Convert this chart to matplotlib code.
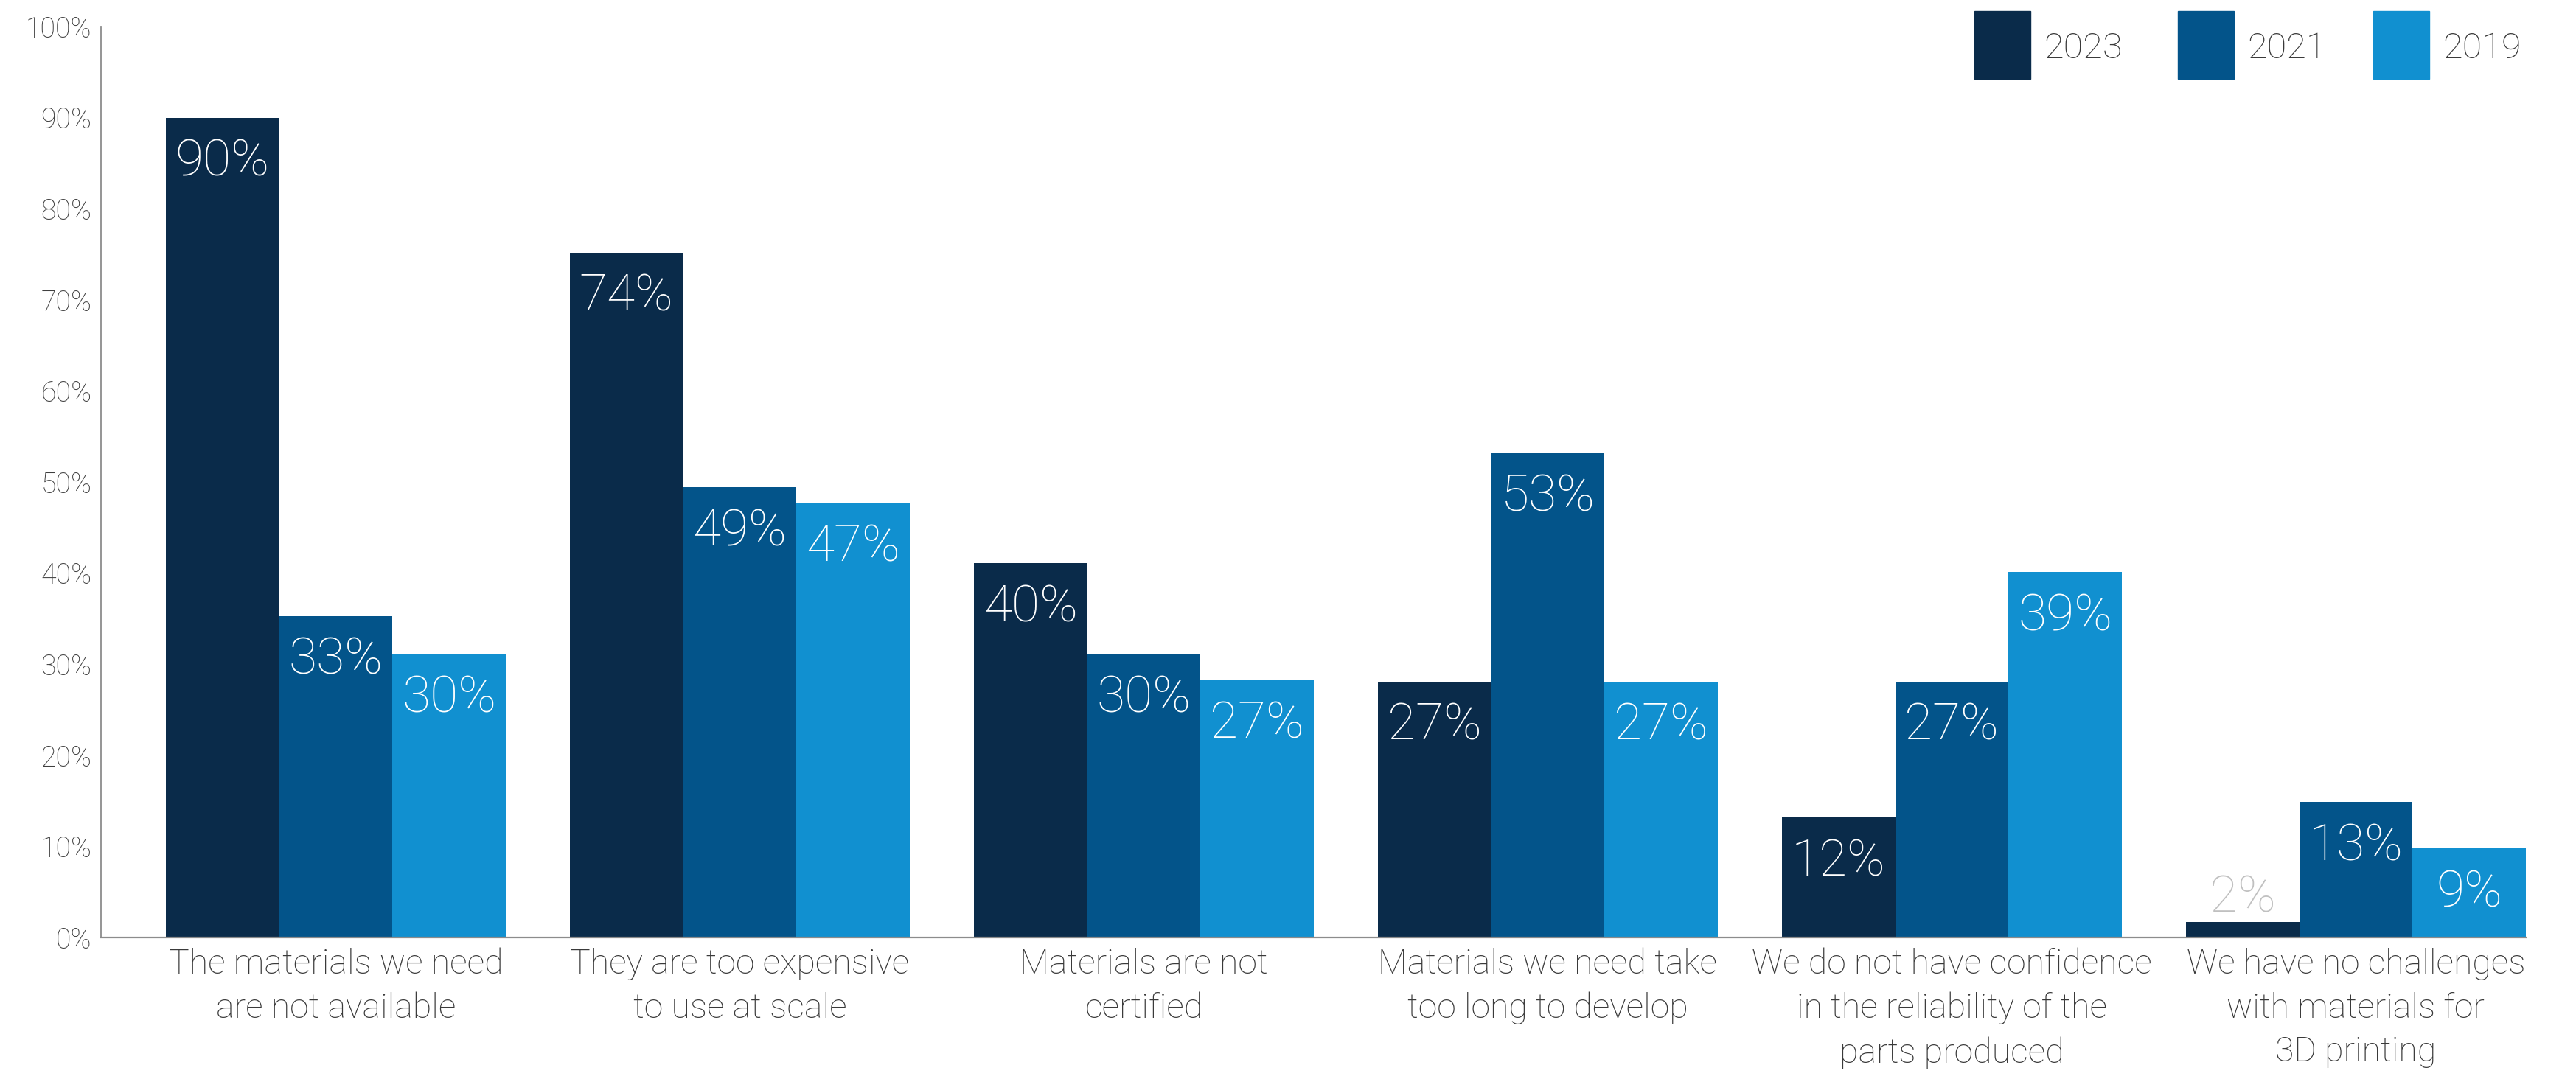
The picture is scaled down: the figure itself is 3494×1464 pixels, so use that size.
#!/usr/bin/env python3
"""
Materials challenges for 3D printing - grouped bar chart (2023 / 2021 / 2019).
"""

import numpy as np
import matplotlib
matplotlib.use('Agg')
import matplotlib.pyplot as plt
from matplotlib.patches import Rectangle


# Categories (x axis)
categories = [
    'The materials we need\nare not available',
    'They are too expensive\nto use at scale',
    'Materials are not\ncertified',
    'Materials we need take\ntoo long to develop',
    'We do not have confidence\nin the reliability of the\nparts produced',
    'We have no challenges\nwith materials for\n3D printing',
]

years = ['2023', '2021', '2019']

# Bar heights as drawn (percent)
heights_2023 = [90.0, 75.2, 41.1, 28.1, 13.2, 1.7]
heights_2021 = [35.3, 49.4, 31.1, 53.2, 28.1, 14.9]
heights_2019 = [31.1, 47.7, 28.3, 28.1, 40.1, 9.8]

# Printed value labels (percent)
labels_2023 = [90, 74, 40, 27, 12, 2]
labels_2021 = [33, 49, 30, 53, 27, 13]
labels_2019 = [30, 47, 27, 27, 39, 9]

y_ticks = [0, 10, 20, 30, 40, 50, 60, 70, 80, 90, 100]

COLORS = ['#0a2b4a', '#03548a', '#1190d0']
TEXT = '#3a3a3a'
TICK_TEXT = '#3f3f3f'
SPINE = '#8c8c8c'
FONT = ['Roboto', 'DejaVu Sans']

W_PX, H_PX, DPI = 3494, 1464, 100


def main():
    plt.rcParams['font.family'] = FONT
    plt.rcParams['font.weight'] = 'light'

    fig = plt.figure(figsize=(W_PX / DPI, H_PX / DPI), dpi=DPI)
    ax = fig.add_axes([137 / W_PX, 1 - 1272 / H_PX,
                       (3426 - 137) / W_PX, (1272 - 36) / H_PX])

    x = np.arange(len(categories))
    width = 0.2805
    series = [
        (heights_2023, labels_2023),
        (heights_2021, labels_2021),
        (heights_2019, labels_2019),
    ]

    for i, (heights, labels) in enumerate(series):
        xs = x + (i - 1) * width
        ax.bar(xs, heights, width=width, color=COLORS[i], zorder=2)

        # value labels: inside the bar near its top, or above a tiny bar
        for xi, h, lab in zip(xs, heights, labels):
            if h < 5:
                ax.annotate(f'{lab}%', (xi, h), xytext=(0, 10),
                            textcoords='offset points', ha='center',
                            va='baseline', fontsize=50, color='#c0c0c0',
                            fontweight='light')
            else:
                ax.annotate(f'{lab}%', (xi, h), xytext=(0, -20),
                            textcoords='offset points', ha='center',
                            va='top', fontsize=50, color='white',
                            fontweight='light')

    ax.set_xlim(-0.581, len(categories) - 1 + 1.5 * width)
    ax.set_ylim(0, 100)

    ax.set_yticks(y_ticks)
    ax.set_yticklabels([f'{t}%' for t in y_ticks], fontsize=27,
                       color=TICK_TEXT)
    ax.set_xticks(x)
    ax.set_xticklabels(categories, fontsize=33.5, color=TEXT,
                       linespacing=1.45)
    ax.tick_params(axis='y', length=0, pad=9)
    ax.tick_params(axis='x', length=0, pad=10)

    for side in ('top', 'right'):
        ax.spines[side].set_visible(False)
    ax.spines['left'].set_color(SPINE)
    ax.spines['left'].set_linewidth(1.3)
    ax.spines['bottom'].set_color(SPINE)
    ax.spines['bottom'].set_linewidth(1.6)

    # Legend drawn in figure pixels: boxes then year labels
    box_left = [2678, 2954, 3219]
    for left, year, color in zip(box_left, years, COLORS):
        fig.patches.append(Rectangle((left / W_PX, 1 - 107 / H_PX),
                                     76 / W_PX, 92 / H_PX,
                                     transform=fig.transFigure,
                                     color=color, figure=fig))
        fig.text((left + 94) / W_PX, 1 - 79 / H_PX, year, fontsize=35,
                 color=TEXT, ha='left', va='baseline', fontweight='light')

    fig.savefig('out.png', dpi=DPI)


if __name__ == '__main__':
    main()
